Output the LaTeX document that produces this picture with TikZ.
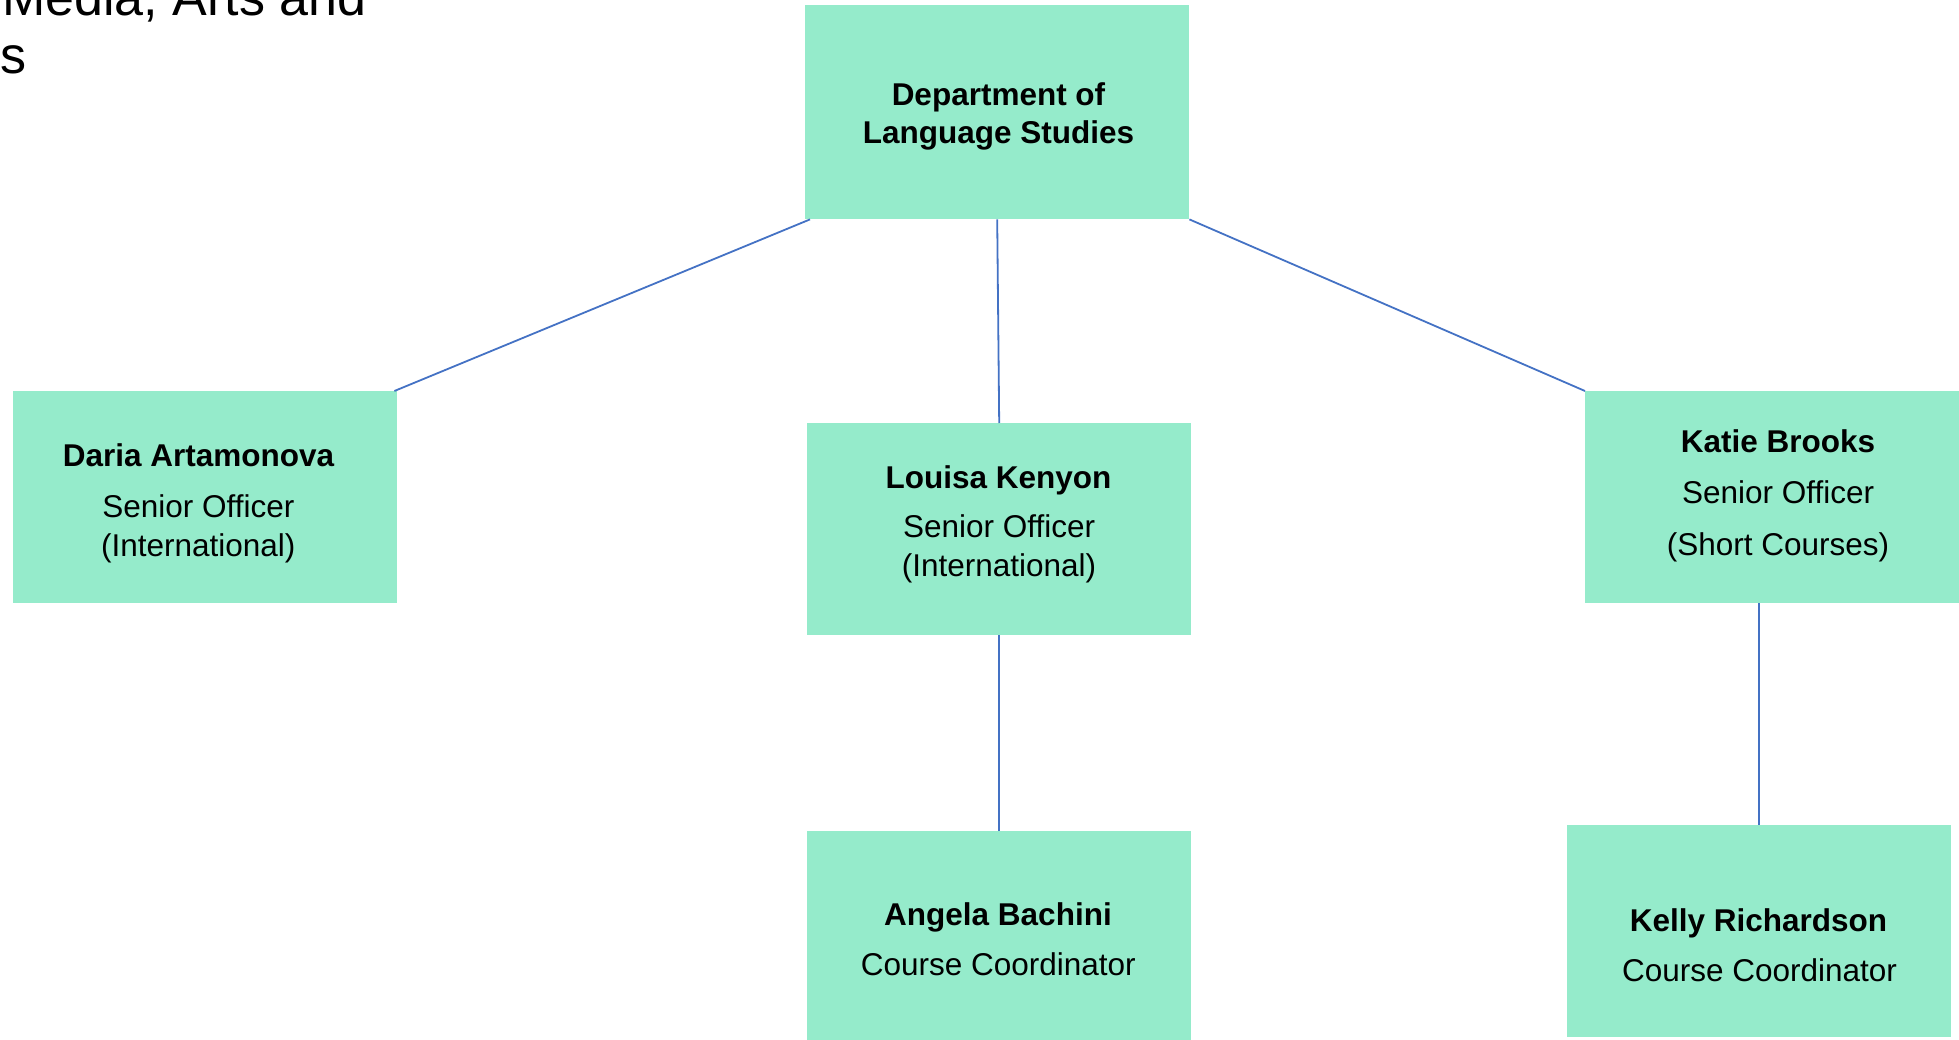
\documentclass[tikz,border=0pt]{standalone}
\usepackage{fontspec}
\setmainfont{Liberation Sans}
\definecolor{boxfill}{RGB}{149,235,203}
\definecolor{linkblue}{RGB}{68,114,196}
\begin{document}
\begin{tikzpicture}[x=1pt,y=-1pt,
  orgbox/.style={fill=boxfill, draw=none, minimum width=384pt, minimum height=212pt, inner sep=0pt, anchor=north west},
  link/.style={draw=linkblue, line width=1.8pt},
  boldtxt/.style={font=\fontsize{31.5}{38}\selectfont\bfseries, anchor=base, inner sep=0pt},
  plaintxt/.style={font=\fontsize{31.5}{38}\selectfont, anchor=base, inner sep=0pt},
  bigtxt/.style={font=\fontsize{52}{59}\selectfont, inner sep=0pt}
]
\useasboundingbox (0,0) rectangle (1959,1040);
\clip (0,0) rectangle (1959,1040);
% header fragment
\node[bigtxt, anchor=base east] (hdrA) at (366.5,16) {Media, Arts and};
\node[bigtxt, anchor=base west] (hdrB) at (0.4,74) {s};
% boxes
\node[orgbox, minimum height=214pt] (dept) at (805,5) {};
\node[orgbox] (daria) at (13,391) {};
\node[orgbox] (louisa) at (807,423) {};
\node[orgbox] (katie) at (1585,391) {};
\node[orgbox] (angela) at (807,831) {};
\node[orgbox] (kelly) at (1567,825) {};
% connectors
\draw[link] ([xshift=5pt]dept.south west) -- ([xshift=-3pt]daria.north east);
\draw[link] (dept.south) -- (louisa.north);
\draw[link] (dept.south east) -- (katie.north west);
\draw[link] (louisa.south) -- (angela.north);
\draw[link] (kelly.north |- katie.south) -- (kelly.north);
% texts
\node[boldtxt] (deptA) at (998.5,106) {Department of};
\node[boldtxt] (deptB) at (998.5,144) {Language Studies};
\node[boldtxt] (dariaA) at (198.5,466.7) {Daria Artamonova};
\node[plaintxt] (dariaB) at (198.3,517.3) {Senior Officer};
\node[plaintxt] (dariaC) at (198.3,556.7) {(International)};
\node[boldtxt] (louisaA) at (998.5,488.3) {Louisa Kenyon};
\node[plaintxt] (louisaB) at (999,537.3) {Senior Officer};
\node[plaintxt] (louisaC) at (999,576.7) {(International)};
\node[boldtxt] (katieA) at (1778,452.7) {Katie Brooks};
\node[plaintxt] (katieB) at (1778,503.3) {Senior Officer};
\node[plaintxt] (katieC) at (1778,555) {(Short Courses)};
\node[boldtxt] (angelaA) at (998,925) {Angela Bachini};
\node[plaintxt] (angelaB) at (998.3,975) {Course Coordinator};
\node[boldtxt] (kellyA) at (1758.5,931.7) {Kelly Richardson};
\node[plaintxt] (kellyB) at (1759.5,981.7) {Course Coordinator};
\end{tikzpicture}
\end{document}
